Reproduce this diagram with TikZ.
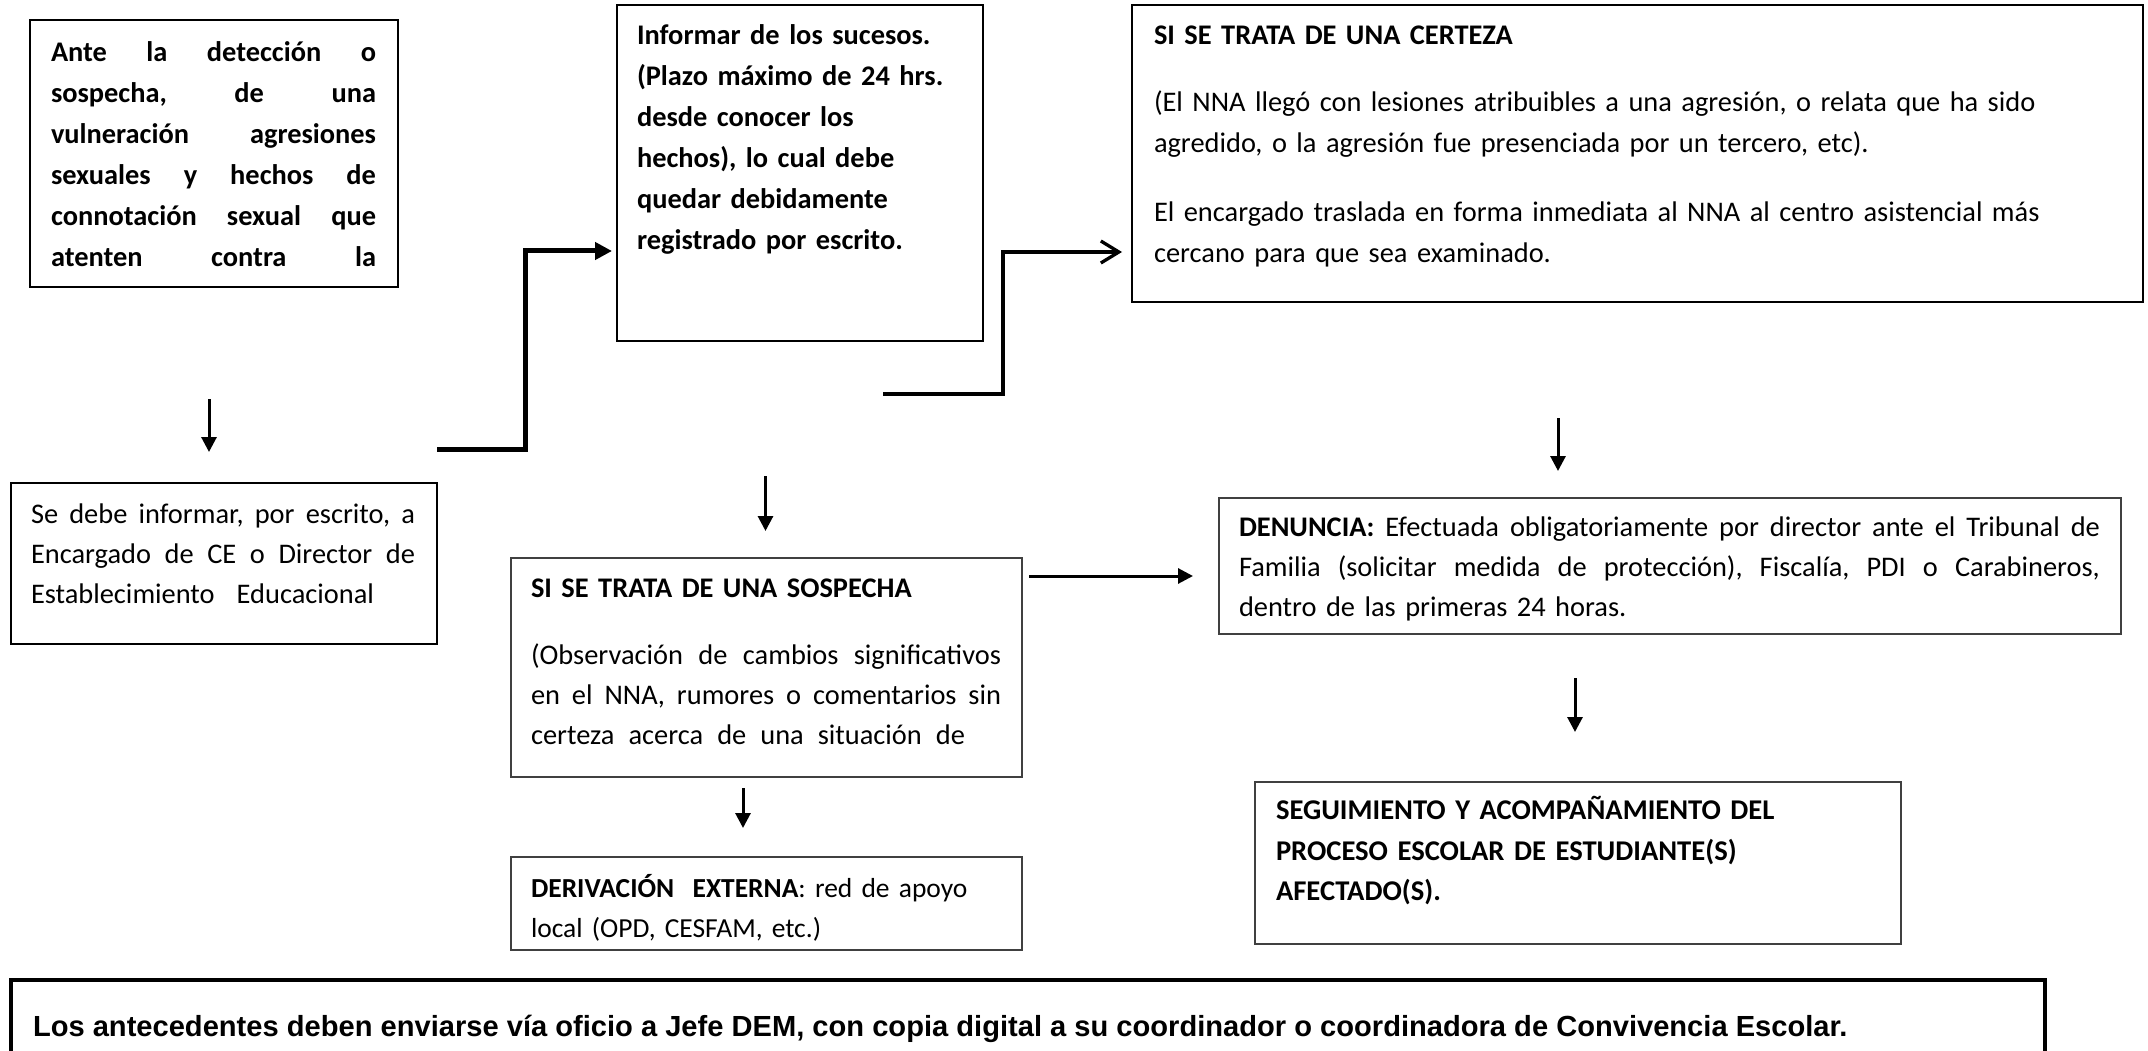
\documentclass[tikz,border=0pt]{standalone}
\usepackage{fontspec}
\setmainfont{Carlito}
\newfontfamily\arialfont{Liberation Sans}
\usetikzlibrary{arrows.meta,calc}
\newcommand\jl[2]{\makebox[#1pt][s]{\frenchspacing\spaceskip=.226em plus 1fil\relax #2}}
\begin{document}
\begin{tikzpicture}[x=1pt,y=-1pt,
  box/.style={draw=black, line width=1.8pt, anchor=north west, inner sep=0pt, outer sep=0pt},
  gbox/.style={box, draw=black!75},
  txt/.style={anchor=north west, inner sep=0pt, outer sep=0pt, text width=1100pt, align=left, font={\fontsize{28.4}{41}\selectfont}},
  txtb/.style={txt, font={\fontsize{28.4}{41}\selectfont\bfseries}},
  txtf/.style={txt, font={\fontsize{28.4}{40}\selectfont}},
  arr/.style={line width=3pt, -{Triangle[length=15pt,width=15pt]}},
  thickarr/.style={line width=5pt, -{Triangle[length=17pt,width=17pt]}},
  openarr/.style={line width=3.3pt, -{Straight Barb[length=18pt,width=22pt]}}]
\fill[white] (0,0) rectangle (2148,1051);
\useasboundingbox (0,0) rectangle (2148,1051);

% boxes
\node[box, minimum width=368, minimum height=267] (b1) at (30,20) {};
\node[box, minimum width=366, minimum height=336] (b2) at (617,5) {};
\node[box, minimum width=1011, minimum height=297] (b3) at (1132,5) {};
\node[box, minimum width=426, minimum height=161] (b4) at (11,483) {};
\node[gbox, minimum width=511, minimum height=219] (b5) at (511,558) {};
\node[gbox, minimum width=511, minimum height=93] (b6) at (511,857) {};
\node[gbox, minimum width=902, minimum height=136] (b7) at (1219,498) {};
\node[gbox, minimum width=646, minimum height=162] (b8) at (1255,782) {};
\begin{scope}
\clip (0,0) rectangle (2148,1051);
\node[box, line width=4.3pt, minimum width=2034, minimum height=110] (b9) at (11,980) {};
\end{scope}

% texts
\node[txtb] (t1) at (51,33.3) {\strut\jl{325}{Ante la detección o}\\
\jl{325}{sospecha, de una}\\
\jl{325}{vulneración agresiones}\\
\jl{325}{sexuales y hechos de}\\
\jl{325}{connotación sexual que}\\
\jl{325}{atenten contra la}};

\node[txtb] (t2) at (637,16.3) {\strut Informar de los sucesos.\\
(Plazo máximo de 24 hrs.\\
desde conocer los\\
hechos), lo cual debe\\
quedar debidamente\\
registrado por escrito.};

\node[txt] (t3) at (1154,16.3) {\strut\textbf{SI SE TRATA DE UNA CERTEZA}\\[26pt]
(El NNA llegó con lesiones atribuibles a una agresión, o relata que ha sido\\
agredido, o la agresión fue presenciada por un tercero, etc).\\[28pt]
El encargado traslada en forma inmediata al NNA al centro asistencial más\\
cercano para que sea examinado.};

\node[txtf] (t4) at (31,495) {\strut\jl{384}{Se debe informar, por escrito, a}\\
\jl{384}{Encargado de CE o Director de}\\
\jl{343}{Establecimiento Educacional}};

\node[txtf] (t5) at (531,569) {\strut\textbf{SI SE TRATA DE UNA SOSPECHA}\\[27pt]
\jl{470}{(Observación de cambios significativos}\\
\jl{470}{en el NNA, rumores o comentarios sin}\\
\jl{434}{certeza acerca de una situación de}};

\node[txt, font={\fontsize{27.5}{40}\selectfont}] (t6) at (531,869) {\strut\textbf{DERIVACIÓN\ \ EXTERNA}: red de apoyo\\
local (OPD, CESFAM, etc.)};

\node[txtf] (t7) at (1239,508) {\strut\jl{861}{\textbf{DENUNCIA:} Efectuada obligatoriamente por director ante el Tribunal de}\\
\jl{861}{Familia (solicitar medida de protección), Fiscalía, PDI o Carabineros,}\\
dentro de las primeras 24 horas.};

\node[txt, font={\fontsize{28.6}{40.5}\selectfont\bfseries}] (t8) at (1276,791.6) {\strut SEGUIMIENTO Y ACOMPAÑAMIENTO DEL\\
PROCESO ESCOLAR DE ESTUDIANTE(S)\\
AFECTADO(S).};

\node[anchor=base west, inner sep=0pt, outer sep=0pt, font={\arialfont\bfseries\fontsize{29.1}{35}\selectfont}] (t9) at (33,1036) {Los antecedentes deben enviarse vía oficio a Jefe DEM, con copia digital a su coordinador o coordinadora de Convivencia Escolar.};

% connectors
\draw[arr] ($(b1.south)+(-5,112)$) -- ($(b1.south |- b4.north)+(-5,-31)$);
\draw[thickarr] ($(b4.north east)+(0,-34)$) -- ++(88,0) |- ($(b2.north west)+(-5,246)$);
\draw[openarr] ($(b2.south west)+(266,53)$) -- ++(120,0) |- ($(b3.north west)+(-10,247)$);
\draw[arr] ($(b2.south -| b5.north)+(-1,135)$) -- ($(b5.north)+(-1,-27)$);
\draw[arr] ($(b5.north east)+(7,18)$) -- ($(b5.north east -| b7.west)+(-26,18)$);
\draw[arr] ($(b3.south west)+(426,116)$) -- ($(b7.north west)+(339,-27)$);
\draw[arr] ($(b7.south west)+(356,44)$) -- ($(b8.north west)+(320,-50)$);
\draw[arr] ($(b5.south west)+(232,11)$) -- ($(b6.north west)+(232,-29)$);
\end{tikzpicture}
\end{document}
